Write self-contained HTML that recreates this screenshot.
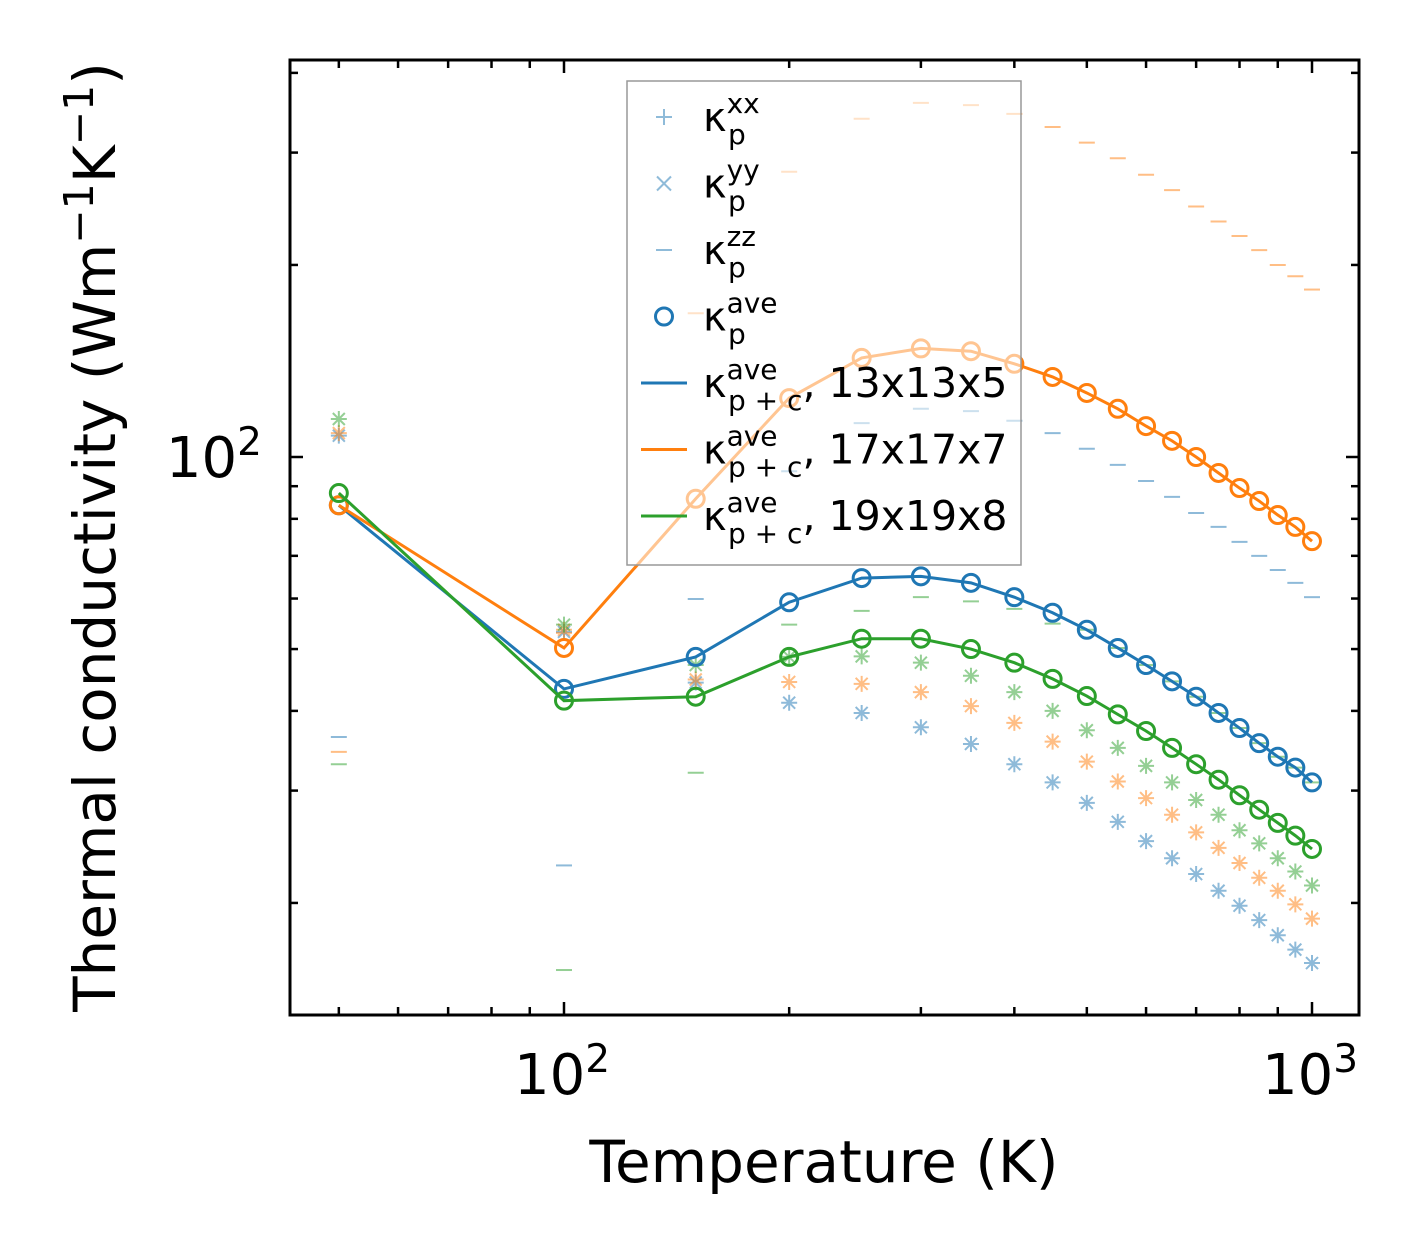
<!DOCTYPE html>
<html><head><meta charset="utf-8"><style>
body{margin:0;background:#fff}
svg text{font-family:"DejaVu Sans","Liberation Sans",sans-serif}
</style></head><body>
<svg id="chart" width="1420" height="1254" xmlns="http://www.w3.org/2000/svg"></svg>
<script>
const temps=[50,100,150,200,250,300,350,400,450,500,550,600,650,700,750,800,850,900,950,1000];
const blueAve=[84,43.3,48.6,59.2,64.6,65.0,63.5,60.3,57,53.6,50.2,47.2,44.5,42.1,39.7,37.6,35.6,33.9,32.6,30.9];
const orangeAve=[84,50.2,86,123.7,143,148,146.5,140,133.5,126,119,111.8,106,100,94.4,89.4,85.3,81.1,77.7,73.8];
const greenAve=[87.8,41.5,42.1,48.6,51.9,51.9,50,47.6,44.9,42.2,39.5,37.2,35,33,31.2,29.5,28,26.7,25.5,24.3];
const blueXY=[108,53.2,44.3,41.2,39.7,37.7,35.5,33,30.9,28.7,26.8,25,23.5,22.2,20.9,19.8,18.8,17.8,16.9,16.1];
const orangeXY=[109,53.6,44.8,44.4,44.1,42.8,40.7,38.3,35.8,33.3,31,29.2,27.5,25.8,24.4,23.1,21.9,20.9,19.9,18.9];
const greenXY=[114.7,54.6,47.2,48.6,48.7,47.6,45.4,42.8,40,37.3,35,32.8,30.9,29,27.5,26,24.8,23.5,22.4,21.3];
const blueZZ=[36.4,22.9,59.9,95,113,119,118,114,109,103,97.2,91.7,86.6,81.7,77.7,73.6,70,66.5,63.5,60.3];
const orangeZZ=[34.5,53,168,280,339,359,356,345,329,311,294,277,262,247,234,222,211,200,192,183];
const greenZZ=[33,15.7,32,54.6,57.4,60.3,59.4,57.8,54.8,53.6,50.2,47.2,44.5,42.1,39.7,37.6,35.6,33.9,32.6,30.9];
const xTickVals=[100,1000];
const yTickVals=[100];
const svg=document.getElementById('chart');
const NS='http://www.w3.org/2000/svg';
const L=290,R=1359,T=60,B=1015;
const x=v=>564+(Math.log10(v)-2)*748;
const y=v=>457-(Math.log10(v)-2)*638;
function mk(tag,attrs,parent){const e=document.createElementNS(NS,tag);for(const k in attrs)e.setAttribute(k,attrs[k]);(parent||svg).appendChild(e);return e;}
const colors={blue:'#1f77b4',orange:'#ff7f0e',green:'#2ca02c'};
const plot=mk('g',{});


const sets=[['blue',blueXY,blueZZ,blueAve],['orange',orangeXY,orangeZZ,orangeAve],['green',greenXY,greenZZ,greenAve]];
sets.forEach(([c,xy,zz,ave])=>{
  const col=colors[c];
  const g=mk('g',{opacity:0.5},plot);
  
  
  temps.forEach((t,i)=>{
    const px=x(t),py=y(xy[i]),s=8;
    const m=mk('path',{d:`M${px-s} ${py}H${px+s}M${px} ${py-s}V${py+s}M${px-6} ${py-6}L${px+6} ${py+6}M${px-6} ${py+6}L${px+6} ${py-6}`,stroke:col,'stroke-width':2,fill:'none'},g);
    
    
    const pz=y(zz[i]);
    const d=mk('line',{x1:px-8,x2:px+8,y1:pz,y2:pz,stroke:col,'stroke-width':2},g);
    
    
  });
});
sets.forEach(([c,xy,zz,ave])=>{
  const col=colors[c];
  const ln=mk('polyline',{points:temps.map((t,i)=>x(t)+','+y(ave[i])).join(' '),fill:'none',stroke:col,'stroke-width':3},plot);
  
  
  temps.forEach((t,i)=>{
    const ci=mk('circle',{cx:x(t),cy:y(ave[i]),r:8.5,fill:'none',stroke:col,'stroke-width':3},plot);
    
    
  });
});
const frame=mk('rect',{x:L,y:T,width:R-L,height:B-T,fill:'none',stroke:'#000','stroke-width':3});


const tg=mk('g',{stroke:'#000','stroke-width':2.5});


for(let dec=10;dec<=1000;dec*=10){for(let k=1;k<10;k++){const v=dec*k;const px=x(v);if(px<L+1||px>R-1)continue;const len=k===1?13:8;
  mk('line',{x1:px,x2:px,y1:B,y2:B-len},tg);mk('line',{x1:px,x2:px,y1:T,y2:T+len},tg);}}
for(let dec=10;dec<=100;dec*=10){for(let k=1;k<10;k++){const v=dec*k;const py=y(v);if(py<T+1||py>B-1)continue;const len=k===1?13:8;
  mk('line',{x1:L,x2:L+len,y1:py,y2:py},tg);mk('line',{x1:R,x2:R-len,y1:py,y2:py},tg);}}
xTickVals.forEach(v=>{const t=mk('text',{x:x(v)-2,y:1094,'font-size':56,'text-anchor':'middle'});t.innerHTML='10<tspan dy="-22" font-size="39">'+Math.log10(v)+'</tspan>';
  });
yTickVals.forEach(v=>{const t=mk('text',{x:262,y:y(v)+20,'font-size':56,'text-anchor':'end'});t.innerHTML='10<tspan dy="-22" font-size="39">'+Math.log10(v)+'</tspan>';
  });
const xl=mk('text',{x:824,y:1182,'font-size':58,'text-anchor':'middle'});xl.textContent='Temperature (K)';

const yl=mk('text',{x:0,y:0,'font-size':58,'text-anchor':'middle',transform:'translate(115,537) rotate(-90)'});
yl.innerHTML='Thermal conductivity (Wm<tspan dy="-22" font-size="41">−1</tspan><tspan dy="22">K</tspan><tspan dy="-22" font-size="41">−1</tspan><tspan dy="22">)</tspan>';

const lg=mk('g',{});

mk('rect',{x:627,y:81,width:394,height:484,fill:'#fff','fill-opacity':0.55,stroke:'#999','stroke-width':1.5},lg);
const rows=[['xx','','plus','blue'],['yy','','x','blue'],['zz','','dash','blue'],['ave','','circle','blue'],['ave','p+c',', 13x13x5','blue'],['ave','p+c',', 17x17x7','orange'],['ave','p+c',', 19x19x8','green']];
rows.forEach((r,i)=>{
  const cy=117+i*66.5;const col=colors[r[3]];
  const e=mk('g',{},lg);
  
  if(r[2]==='plus')mk('path',{d:`M656 ${cy}H672M664 ${cy-8}V${cy+8}`,stroke:col,'stroke-opacity':0.5,'stroke-width':2},e);
  else if(r[2]==='x')mk('path',{d:`M657 ${cy-7}L671 ${cy+7}M657 ${cy+7}L671 ${cy-7}`,stroke:col,'stroke-opacity':0.5,'stroke-width':2},e);
  else if(r[2]==='dash')mk('line',{x1:656,x2:672,y1:cy,y2:cy,stroke:col,'stroke-opacity':0.5,'stroke-width':2},e);
  else if(r[2]==='circle')mk('circle',{cx:664,cy:cy,r:8.5,fill:'none',stroke:col,'stroke-width':3},e);
  else mk('line',{x1:641,x2:687,y1:cy,y2:cy,stroke:col,'stroke-width':3},e);
  const t=mk('text',{x:703,y:cy+14,'font-size':40},e);
  const sub=r[1]?'p + c':'p';
  t.innerHTML='κ<tspan dy="-18" font-size="28">'+r[0]+'</tspan><tspan x="728" dy="31" font-size="28">'+sub+'</tspan>'+(r[1]?'<tspan dy="-13" font-size="41">'+r[2]+'</tspan>':'');
});
</script>
</body></html>
